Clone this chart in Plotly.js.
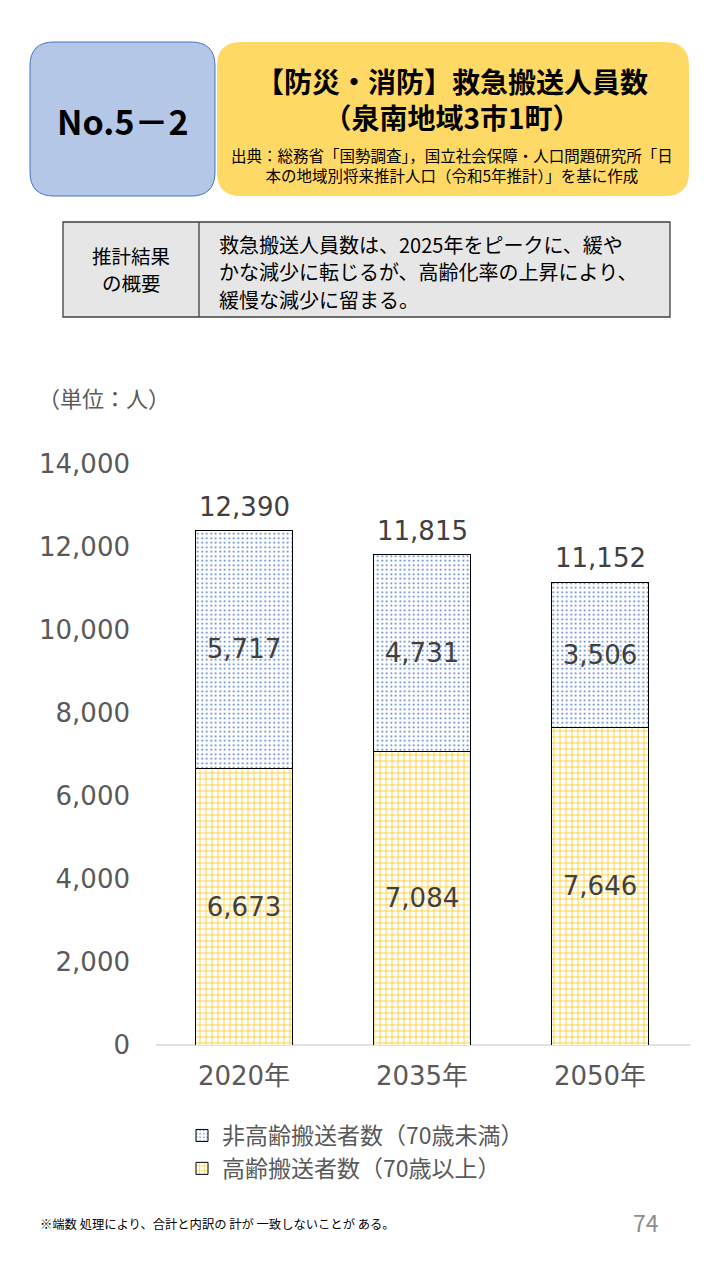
<!DOCTYPE html>
<html>
<head>
<meta charset="utf-8">
<script src="https://cdn.plot.ly/plotly-3.0.1.min.js"></script>
<style>
html,body{margin:0;padding:0;background:#fff;}
#chart{width:720px;height:1280px;}
</style>
</head>
<body>
<div id="chart"></div>
<script>
// ---- data ----
var categories = ['2020年', '2035年', '2050年'];
var elderly = [6673, 7084, 7646];        // 高齢搬送者数（70歳以上）
var nonElderly = [5717, 4731, 3506];     // 非高齢搬送者数（70歳未満）
var totals = [12390, 11815, 11152];
var seriesNames = ['高齢搬送者数（70歳以上）', '非高齢搬送者数（70歳未満）'];
var yTicks = [0, 2000, 4000, 6000, 8000, 10000, 12000, 14000];

// ---- page geometry helpers (pixel -> paper) ----
var W = 720, H = 1280;
function px(x){ return x / W; }
function py(y){ return 1 - y / H; }
function rr(x0, y0, x1, y1, r){
  var p = [];
  p.push('M' + px(x0 + r) + ',' + py(y0));
  p.push('L' + px(x1 - r) + ',' + py(y0));
  p.push('Q' + px(x1) + ',' + py(y0) + ' ' + px(x1) + ',' + py(y0 + r));
  p.push('L' + px(x1) + ',' + py(y1 - r));
  p.push('Q' + px(x1) + ',' + py(y1) + ' ' + px(x1 - r) + ',' + py(y1));
  p.push('L' + px(x0 + r) + ',' + py(y1));
  p.push('Q' + px(x0) + ',' + py(y1) + ' ' + px(x0) + ',' + py(y1 - r));
  p.push('L' + px(x0) + ',' + py(y0 + r));
  p.push('Q' + px(x0) + ',' + py(y0) + ' ' + px(x0 + r) + ',' + py(y0));
  p.push('Z');
  return p.join(' ');
}

var FONT = '"Noto Sans CJK JP", "Noto Sans", sans-serif';
var NUMFONT = '"DejaVu Sans", "Noto Sans CJK JP", sans-serif';
var GRAY = '#595959';

function fmt(v){ return v.toLocaleString('en-US'); }

var traces = [
  {
    type: 'bar',
    name: seriesNames[0],
    x: categories,
    y: elderly,
    text: elderly.map(fmt),
    textposition: 'inside',
    insidetextanchor: 'middle',
    constraintext: 'none',
    textfont: {family: NUMFONT, size: 26, color: '#404040'},
    hoverinfo: 'skip',
    marker: {
      color: '#ffffff',
      line: {color: '#000000', width: 1},
      pattern: {shape: '+', fgcolor: '#FFC000', bgcolor: '#ffffff', size: 6, solidity: 0.22, fillmode: 'replace'}
    }
  },
  {
    type: 'bar',
    name: seriesNames[1],
    x: categories,
    y: nonElderly,
    text: nonElderly.map(fmt),
    textposition: 'inside',
    insidetextanchor: 'middle',
    constraintext: 'none',
    textfont: {family: NUMFONT, size: 26, color: '#404040'},
    hoverinfo: 'skip',
    marker: {
      color: '#ffffff',
      line: {color: '#000000', width: 1},
      pattern: {shape: '.', fgcolor: '#4472C4', bgcolor: '#ffffff', size: 4.5, solidity: 0.15, fillmode: 'replace'}
    }
  }
];

var annotations = [];
// totals above bars
for (var i = 0; i < categories.length; i++){
  annotations.push({
    xref: 'x', yref: 'y', x: categories[i], y: totals[i],
    text: fmt(totals[i]), showarrow: false, yanchor: 'bottom', yshift: 7,
    font: {family: NUMFONT, size: 26, color: '#404040'}
  });
}
// header texts
annotations.push({xref:'paper', yref:'paper', x: px(123), y: py(120), text: '<b>No.5－2</b>', showarrow:false,
  xanchor:'center', yanchor:'middle', font:{family:FONT, size:34, color:'#000000'}});
annotations.push({xref:'paper', yref:'paper', x: px(452), y: py(99), text: '<b>【防災・消防】救急搬送人員数<br>（泉南地域3市1町）</b>', showarrow:false,
  xanchor:'center', yanchor:'middle', align:'center', font:{family:FONT, size:28, color:'#000000'}});
annotations.push({xref:'paper', yref:'paper', x: px(452), y: py(165), text: '出典：総務省「国勢調査」，国立社会保障・人口問題研究所「日<br>本の地域別将来推計人口（令和5年推計）」を基に作成', showarrow:false,
  xanchor:'center', yanchor:'middle', align:'center', font:{family:FONT, size:15.5, color:'#000000'}});
// table texts
var leftLines = ['推計結果', 'の概要'];
var leftY = [255, 282];
for (var k = 0; k < leftLines.length; k++){
  annotations.push({xref:'paper', yref:'paper', x: px(131), y: py(leftY[k]), text: leftLines[k], showarrow:false,
    xanchor:'center', yanchor:'middle', font:{family:FONT, size:19.5, color:'#000000'}});
}
var tableLines = ['救急搬送人員数は、2025年をピークに、緩や', 'かな減少に転じるが、高齢化率の上昇により、', '緩慢な減少に留まる。'];
var tableY = [244, 271.5, 299.5];
for (var j = 0; j < tableLines.length; j++){
  annotations.push({xref:'paper', yref:'paper', x: px(217), y: py(tableY[j]), text: tableLines[j], showarrow:false,
    xanchor:'left', yanchor:'middle', font:{family:FONT, size:20, color:'#000000'}});
}
// unit
annotations.push({xref:'paper', yref:'paper', x: px(36), y: py(397), text: '（単位：人）', showarrow:false,
  xanchor:'left', yanchor:'middle', font:{family:FONT, size:22, color:GRAY}});
// footnote
annotations.push({xref:'paper', yref:'paper', x: px(38), y: py(1224), text: '※端数 処理により、合計と内訳の 計が 一致しないことが ある。', showarrow:false,
  xanchor:'left', yanchor:'middle', font:{family:FONT, size:12.3, color:'#000000'}});
// page number
annotations.push({xref:'paper', yref:'paper', x: px(661), y: py(1222), text: '74', showarrow:false,
  xanchor:'right', yanchor:'middle', font:{family:FONT, size:23, color:'#8C8C8C'}});

var shapes = [
  {type:'path', xref:'paper', yref:'paper', path: rr(30, 42, 215, 196, 24),
   fillcolor:'#B4C7E7', line:{color:'#4472C4', width:1}, layer:'below'},
  {type:'path', xref:'paper', yref:'paper', path: rr(217, 42, 689, 196, 24),
   fillcolor:'#FFD966', line:{color:'#FFD966', width:0}, layer:'below'},
  {type:'rect', xref:'paper', yref:'paper', x0: px(63), x1: px(670), y0: py(222), y1: py(317),
   fillcolor:'#E7E6E6', line:{color:'#404040', width:1.3}, layer:'below'},
  {type:'line', xref:'paper', yref:'paper', x0: px(199), x1: px(199), y0: py(222), y1: py(317),
   line:{color:'#404040', width:1.3}},
  {type:'line', xref:'paper', yref:'paper', x0: px(156), x1: px(691), y0: py(1045), y1: py(1045),
   line:{color:'#D9D9D9', width:1.3}, layer:'below'}
];

var layout = {
  width: W, height: H,
  margin: {l:0, r:0, t:0, b:0},
  paper_bgcolor: '#ffffff', plot_bgcolor: 'rgba(0,0,0,0)',
  barmode: 'stack',
  bargap: 0.45,
  showlegend: true,
  legend: {
    x: px(182), y: py(1114), xanchor: 'left', yanchor: 'top',
    traceorder: 'reversed',
    font: {family: FONT, size: 23, color: GRAY},
    itemwidth: 30, tracegroupgap: 0,
    bgcolor: 'rgba(0,0,0,0)'
  },
  xaxis: {
    domain: [px(155), px(689)],
    type: 'category',
    automargin: false,
    showgrid: false, zeroline: false, showline: false,
    ticks: '', ticklabelstandoff: 13,
    tickfont: {family: NUMFONT, size: 26, color: GRAY},
    fixedrange: true
  },
  yaxis: {
    domain: [py(1045), py(464)],
    range: [0, 14000],
    automargin: false,
    tickmode: 'array', tickvals: yTicks, ticktext: yTicks.map(fmt),
    showgrid: false, zeroline: false, showline: false,
    ticks: '', ticklabelstandoff: 24,
    tickfont: {family: NUMFONT, size: 26, color: GRAY},
    fixedrange: true
  },
  annotations: annotations,
  shapes: shapes,
  font: {family: FONT}
};

Plotly.newPlot('chart', traces, layout, {staticPlot: true, displayModeBar: false});
</script>
</body>
</html>
